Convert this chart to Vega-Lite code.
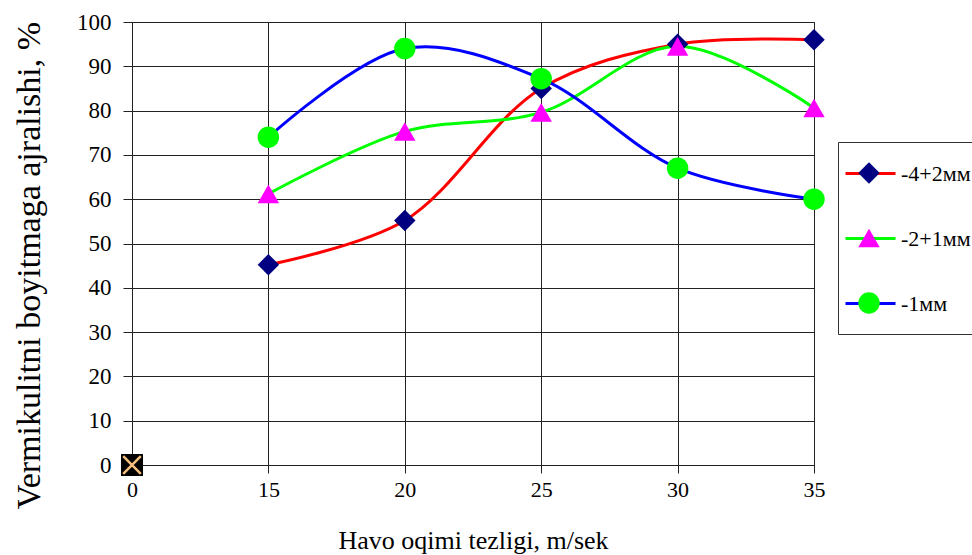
{
  "$schema": "https://vega.github.io/schema/vega-lite/v6.json",
  "width": 682,
  "height": 443,
  "autosize": "none",
  "padding": {"left": 132, "top": 22, "right": 158, "bottom": 90},
  "background": "white",
  "config": {
    "view": {"stroke": "#222", "strokeWidth": 1},
    "font": "Liberation Serif"
  },
  "datasets": {
    "main": [
      {"v": "15", "p": 45.2, "s": "-4+2мм"},
      {"v": "20", "p": 55.2, "s": "-4+2мм"},
      {"v": "25", "p": 85, "s": "-4+2мм"},
      {"v": "30", "p": 95, "s": "-4+2мм"},
      {"v": "35", "p": 96, "s": "-4+2мм"},
      {"v": "15", "p": 61.2, "s": "-2+1мм"},
      {"v": "20", "p": 75.3, "s": "-2+1мм"},
      {"v": "25", "p": 79.6, "s": "-2+1мм"},
      {"v": "30", "p": 94.5, "s": "-2+1мм"},
      {"v": "35", "p": 80.6, "s": "-2+1мм"},
      {"v": "15", "p": 74, "s": "-1мм"},
      {"v": "20", "p": 94, "s": "-1мм"},
      {"v": "25", "p": 87.2, "s": "-1мм"},
      {"v": "30", "p": 67, "s": "-1мм"},
      {"v": "35", "p": 60, "s": "-1мм"}
    ],
    "origin": [{"v": "0", "p": 0}]
  },
  "layer": [
    {
      "data": {"name": "main"},
      "mark": {"type": "line", "interpolate": "catmull-rom", "strokeWidth": 3},
      "encoding": {
        "x": {
          "field": "v", "type": "ordinal",
          "scale": {"type": "point", "domain": ["0", "15", "20", "25", "30", "35"], "padding": 0},
          "axis": {
            "title": "Havo oqimi tezligi, m/sek",
            "labelAngle": 0, "grid": true, "gridColor": "#222", "gridWidth": 1,
            "domainColor": "#222", "tickColor": "#222", "tickSize": 8,
            "labelFont": "Liberation Serif", "labelFontSize": 22, "labelColor": "black", "labelPadding": 6,
            "titleFont": "Liberation Serif", "titleFontSize": 26, "titleFontWeight": "normal", "titleColor": "black", "titlePadding": 27
          }
        },
        "y": {
          "field": "p", "type": "quantitative",
          "scale": {"domain": [0, 100], "nice": false},
          "axis": {
            "title": "Vermikulitni boyitmaga ajralishi, %",
            "values": [0, 10, 20, 30, 40, 50, 60, 70, 80, 90, 100],
            "grid": true, "gridColor": "#222", "gridWidth": 1,
            "domainColor": "#222", "tickColor": "#222", "tickSize": 9,
            "labelFont": "Liberation Serif", "labelFontSize": 23, "labelColor": "black", "labelPadding": 12,
            "titleFont": "Liberation Serif", "titleFontSize": 34, "titleFontWeight": "normal", "titleColor": "black", "titlePadding": 30, "titleY": 243
          }
        },
        "stroke": {
          "field": "s", "type": "nominal",
          "scale": {"domain": ["-4+2мм", "-2+1мм", "-1мм"], "range": ["#FF0000", "#00FF00", "#0000FF"]},
          "legend": {
            "orient": "none", "legendX": 692, "legendY": 105, "title": null,
            "symbolType": "stroke", "symbolSize": 2500, "symbolStrokeWidth": 3,
            "labelFont": "Liberation Serif", "labelFontSize": 22, "labelColor": "black", "labelOffset": 4,
            "padding": 20, "rowPadding": 27
          }
        }
      }
    },
    {
      "data": {"name": "main"},
      "mark": {"type": "point", "filled": true, "opacity": 1, "size": 460, "strokeWidth": 0},
      "encoding": {
        "x": {"field": "v", "type": "ordinal"},
        "y": {"field": "p", "type": "quantitative"},
        "fill": {
          "field": "s", "type": "nominal", "sort": ["-4+2мм", "-2+1мм", "-1мм"],
          "scale": {"range": ["#000080", "#FF00FF", "#00FF00"]},
          "legend": {
            "orient": "none", "legendX": 706, "legendY": 120, "title": null,
            "symbolSize": 460, "symbolStrokeWidth": 0, "symbolOpacity": 1,
            "labelFont": "Liberation Serif", "labelFontSize": 22, "labelOpacity": 0, "labelOffset": 3,
            "strokeColor": "#333", "padding": 20, "rowPadding": 43,
            "encode": {
              "symbols": {
                "update": {
                  "shape": {"signal": "['diamond','triangle-up','circle'][indexof(['-4+2мм','-2+1мм','-1мм'], datum.value)]"}
                }
              }
            }
          }
        },
        "shape": {
          "field": "s", "type": "nominal", "sort": ["-4+2мм", "-2+1мм", "-1мм"],
          "scale": {"range": ["diamond", "triangle-up", "circle"]},
          "legend": null
        }
      }
    },
    {
      "data": {"name": "origin"},
      "mark": {"type": "point", "shape": "square", "filled": true, "fill": "black", "size": 484, "opacity": 1, "strokeWidth": 0},
      "encoding": {
        "x": {"field": "v", "type": "ordinal"},
        "y": {"field": "p", "type": "quantitative"}
      }
    },
    {
      "data": {"name": "origin"},
      "mark": {"type": "point", "shape": "M-0.8,-0.8L0.8,0.8M0.8,-0.8L-0.8,0.8", "filled": false, "stroke": "#F5BE7E", "strokeWidth": 2.5, "size": 484, "opacity": 1},
      "encoding": {
        "x": {"field": "v", "type": "ordinal"},
        "y": {"field": "p", "type": "quantitative"}
      }
    }
  ]
}
